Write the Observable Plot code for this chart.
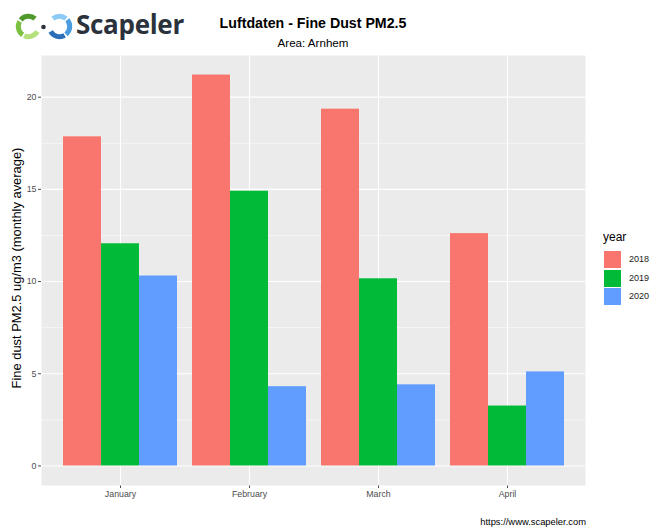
<!DOCTYPE html>
<html>
<head>
<meta charset="utf-8">
<script src="https://cdn.jsdelivr.net/npm/d3@7"></script>
<script src="https://cdn.jsdelivr.net/npm/@observablehq/plot@0.6"></script>
<style>
  body { margin: 0; background: white; font-family: "Liberation Sans", Arial, sans-serif; }
  #wrap { position: relative; width: 653px; height: 529px; overflow: hidden; }
  #wrap > svg { position: absolute; left: 0; top: 0; }
  .abs { position: absolute; white-space: nowrap; }
</style>
</head>
<body>
<div id="wrap"></div>
<script>
// ---- data ----
const months = ["January", "February", "March", "April"];
const years = ["2018", "2019", "2020"];
const pm2018 = [17.85, 21.2, 19.35, 12.6];
const pm2019 = [12.05, 14.9, 10.15, 3.25];
const pm2020 = [10.3, 4.3, 4.4, 5.1];
const yearColors = ["#F8766D", "#00BA38", "#619CFF"];
const yTicks = [0, 5, 10, 15, 20];
const yMinor = [2.5, 7.5, 12.5, 17.5];
const titleText = "Luftdaten - Fine Dust PM2.5";
const subtitleText = "Area: Arnhem";
const yLabel = "Fine dust PM2.5 ug/m3 (monthly average)";
const legendTitle = "year";
const captionText = "https://www.scapeler.com";
const logoText = "Scapeler";

const series = [pm2018, pm2019, pm2020];
const rows = months.flatMap((m, i) => years.map((y, j) => ({month: m, year: y, value: series[j][i]})));

const W = 653, H = 529;
const margins = {marginTop: 55, marginBottom: 44, marginLeft: 41, marginRight: 68};
const yMax = d3.max(rows, d => d.value);
const yDomain = [-0.05 * yMax, 1.05 * yMax];

const wrap = document.getElementById("wrap");

// Background panel, grid, axes
const back = Plot.plot({
  width: W, height: H, ...margins,
  style: {background: "transparent", fontFamily: "Liberation Sans, Arial, sans-serif", fontSize: "8.8px", color: "#4d4d4d"},
  x: {type: "point", domain: months, padding: 0.6, tickSize: 3, tickPadding: 2, label: null},
  y: {domain: yDomain, ticks: yTicks, tickSize: 3, tickPadding: 2, label: null},
  marks: [
    Plot.frame({fill: "#EBEBEB", stroke: "none"}),
    Plot.ruleY(yMinor, {stroke: "white", strokeWidth: 0.55}),
    Plot.ruleY(yTicks, {stroke: "white", strokeWidth: 1.1}),
    Plot.ruleX(months, {stroke: "white", strokeWidth: 1.1})
  ]
});
wrap.appendChild(back);

// Bars (dodged via facets)
const bars = Plot.plot({
  width: W, height: H, ...margins,
  style: {background: "transparent"},
  facet: {data: rows, x: "month", marginTop: 0, marginRight: 0, marginBottom: 0, marginLeft: 0},
  fx: {domain: months, paddingInner: 0, paddingOuter: 0.1, axis: null, label: null},
  x: {domain: years, paddingInner: 0, paddingOuter: 1 / 6, axis: null, label: null},
  y: {domain: yDomain, axis: null, label: null},
  color: {domain: years, range: yearColors},
  marks: [
    Plot.barY(rows, {x: "year", y: "value", fill: "year"})
  ]
});
wrap.appendChild(bars);

function addDiv(text, css) {
  const d = document.createElement("div");
  d.className = "abs";
  d.textContent = text;
  Object.assign(d.style, css);
  wrap.appendChild(d);
  return d;
}

// Title & subtitle (centered over panel)
addDiv(titleText, {left: "41px", width: "544px", textAlign: "center", top: "15px", fontSize: "14.2px", fontWeight: "bold", color: "#000", lineHeight: "16px"});
addDiv(subtitleText, {left: "41px", width: "544px", textAlign: "center", top: "36px", fontSize: "11.6px", color: "#000", lineHeight: "14px"});

// Y axis title
addDiv(yLabel, {left: "16px", top: "268px", fontSize: "12.9px", color: "#000", lineHeight: "15px", transform: "translate(-50%, -50%) rotate(-90deg)"});

// Caption
addDiv(captionText, {right: (W - 586) + "px", top: "516px", fontSize: "9.4px", color: "#000", lineHeight: "11px"});

// Legend
addDiv(legendTitle, {left: "603px", top: "230px", fontSize: "12px", color: "#000", lineHeight: "14px"});
years.forEach((y, i) => {
  const k = document.createElement("div");
  k.className = "abs";
  Object.assign(k.style, {left: "604px", top: (251 + i * 18.6) + "px", width: "17px", height: "17px", background: yearColors[i]});
  wrap.appendChild(k);
  addDiv(y, {left: "629px", top: (254 + i * 18.6) + "px", fontSize: "9px", color: "#1a1a1a", lineHeight: "11px"});
});

// Logo
const ns = "http://www.w3.org/2000/svg";
const logo = document.createElementNS(ns, "svg");
logo.setAttribute("width", 75); logo.setAttribute("height", 55);
logo.style.position = "absolute"; logo.style.left = "0px"; logo.style.top = "0px";
function arc(cx, cy, r, a0, a1, color) {
  const rad = a => a * Math.PI / 180;
  const x0 = cx + r * Math.cos(rad(a0)), y0 = cy + r * Math.sin(rad(a0));
  const x1 = cx + r * Math.cos(rad(a1)), y1 = cy + r * Math.sin(rad(a1));
  const large = (a1 - a0) > 180 ? 1 : 0;
  const p = document.createElementNS(ns, "path");
  p.setAttribute("d", `M${x0},${y0}A${r},${r} 0 ${large} 1 ${x1},${y1}`);
  p.setAttribute("fill", "none"); p.setAttribute("stroke", color); p.setAttribute("stroke-width", 5);
  logo.appendChild(p);
}
arc(28.5, 26.5, 10.2, 30, 115, "#b5e07c");
arc(28.5, 26.5, 10.2, 125, 210, "#7cc142");
arc(28.5, 26.5, 10.2, 220, 310, "#4f9a2a");
arc(59.5, 26.5, 10.2, 230, 310, "#8ccbf5");
arc(59.5, 26.5, 10.2, 320, 410, "#4a9be0");
arc(59.5, 26.5, 10.2, 60, 150, "#2a6fb8");
const dot = document.createElementNS(ns, "circle");
dot.setAttribute("cx", 43.5); dot.setAttribute("cy", 27); dot.setAttribute("r", 2.3); dot.setAttribute("fill", "#2b323b");
logo.appendChild(dot);
wrap.appendChild(logo);
addDiv(logoText, {left: "76px", top: "6px", fontSize: "26px", fontWeight: "bold", fontFamily: "'Open Sans', sans-serif", color: "#2b323b", lineHeight: "36px", letterSpacing: "-0.3px"});
</script>
</body>
</html>
